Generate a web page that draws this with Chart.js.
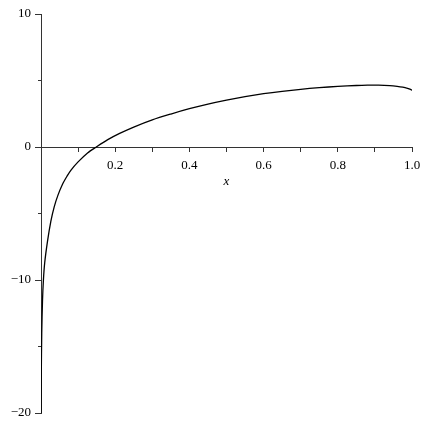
<!DOCTYPE html>
<html lang="en">
<head>
  <meta charset="UTF-8">
  <title>Plot</title>
  <script src="https://cdn.jsdelivr.net/npm/chart.js"></script>
  <style>
    body {
      margin: 0;
      padding: 0;
      background-color: #fff;
    }
    .wrap {
      width: 429px;
      height: 429px;
    }
  </style>
</head>
<body>
  <div class="wrap">
    <canvas id="plot" width="429" height="429"></canvas>
  </div>

  <script>
    // curve samples
    const xValues = [0.0002, 0.0008, 0.002, 0.004, 0.0065, 0.01, 0.0175, 0.0265, 0.0356, 0.046,
      0.058, 0.07, 0.0804, 0.1, 0.1255, 0.149, 0.18, 0.212, 0.25, 0.3,
      0.35, 0.4, 0.45, 0.5, 0.55, 0.6, 0.65, 0.7, 0.75, 0.8,
      0.85, 0.88, 0.91, 0.94, 0.96, 0.975, 0.988, 0.996, 1.0];
    const yValues = [-20, -17, -14, -11.6, -10, -8.7, -7.1, -5.6, -4.5, -3.6,
      -2.8, -2.2, -1.75, -1.12, -0.45, 0, 0.55, 1.02, 1.5, 2.04,
      2.48, 2.88, 3.23, 3.53, 3.79, 4.01, 4.19, 4.34, 4.46, 4.555,
      4.625, 4.65, 4.655, 4.62, 4.565, 4.5, 4.41, 4.33, 4.26];

    const xTickLabels = ['0.2', '0.4', '0.6', '0.8', '1.0'];
    const yTickLabels = ['10', '0', '\u221210', '\u221220'];
    const yMajorTicks = [10, 0, -10, -20];

    const serif = "'Liberation Serif', 'Times New Roman', Times, serif";
    const axisFont = { family: serif, size: 13 };
    const axisColor = '#333';

    function initChart() {
      const points = xValues.map((x, i) => ({ x: x, y: yValues[i] }));

      new Chart(document.getElementById('plot').getContext('2d'), {
        type: 'scatter',
        data: {
          datasets: [{
            data: points,
            showLine: true,
            borderColor: '#000',
            borderWidth: 1.3,
            pointRadius: 0,
            tension: 0.3,
            fill: false
          }]
        },
        options: {
          responsive: false,
          animation: false,
          layout: { padding: { top: 14, right: 17, bottom: 16, left: 0 } },
          plugins: {
            legend: { display: false },
            tooltip: { enabled: false }
          },
          scales: {
            x: {
              type: 'linear',
              min: 0,
              max: 1,
              position: { y: 0 },
              border: { color: axisColor, width: 1 },
              grid: { drawOnChartArea: false, tickLength: 4, color: axisColor },
              ticks: {
                stepSize: 0.1,
                autoSkip: false,
                maxRotation: 0,
                padding: 7,
                color: '#000',
                font: axisFont,
                callback: (v) => {
                  const k = Math.round(v * 10);
                  if (k > 0 && k % 2 === 0) return xTickLabels[k / 2 - 1];
                  return '';
                }
              },
              title: {
                display: true,
                text: 'x',
                color: '#000',
                font: { family: serif, size: 13, style: 'italic' },
                padding: { top: -7, bottom: 0 }
              }
            },
            y: {
              min: -20,
              max: 10,
              position: 'left',
              afterFit: (scale) => { scale.width = 41; },
              border: { color: axisColor, width: 1 },
              grid: { drawOnChartArea: false, tickLength: 6, color: axisColor },
              ticks: {
                stepSize: 10,
                padding: 4,
                color: '#000',
                font: axisFont,
                callback: (v) => {
                  const i = yMajorTicks.indexOf(v);
                  return i >= 0 ? yTickLabels[i] : '';
                }
              }
            },
            // minor ticks on the y axis
            y2: {
              min: -20,
              max: 10,
              position: { x: 0 },
              border: { color: axisColor, width: 1 },
              grid: { drawOnChartArea: false, tickLength: 3, color: axisColor },
              ticks: { stepSize: 5, display: false }
            }
          }
        }
      });
    }

    window.onload = () => {
      initChart();
    };
  </script>
</body>
</html>
